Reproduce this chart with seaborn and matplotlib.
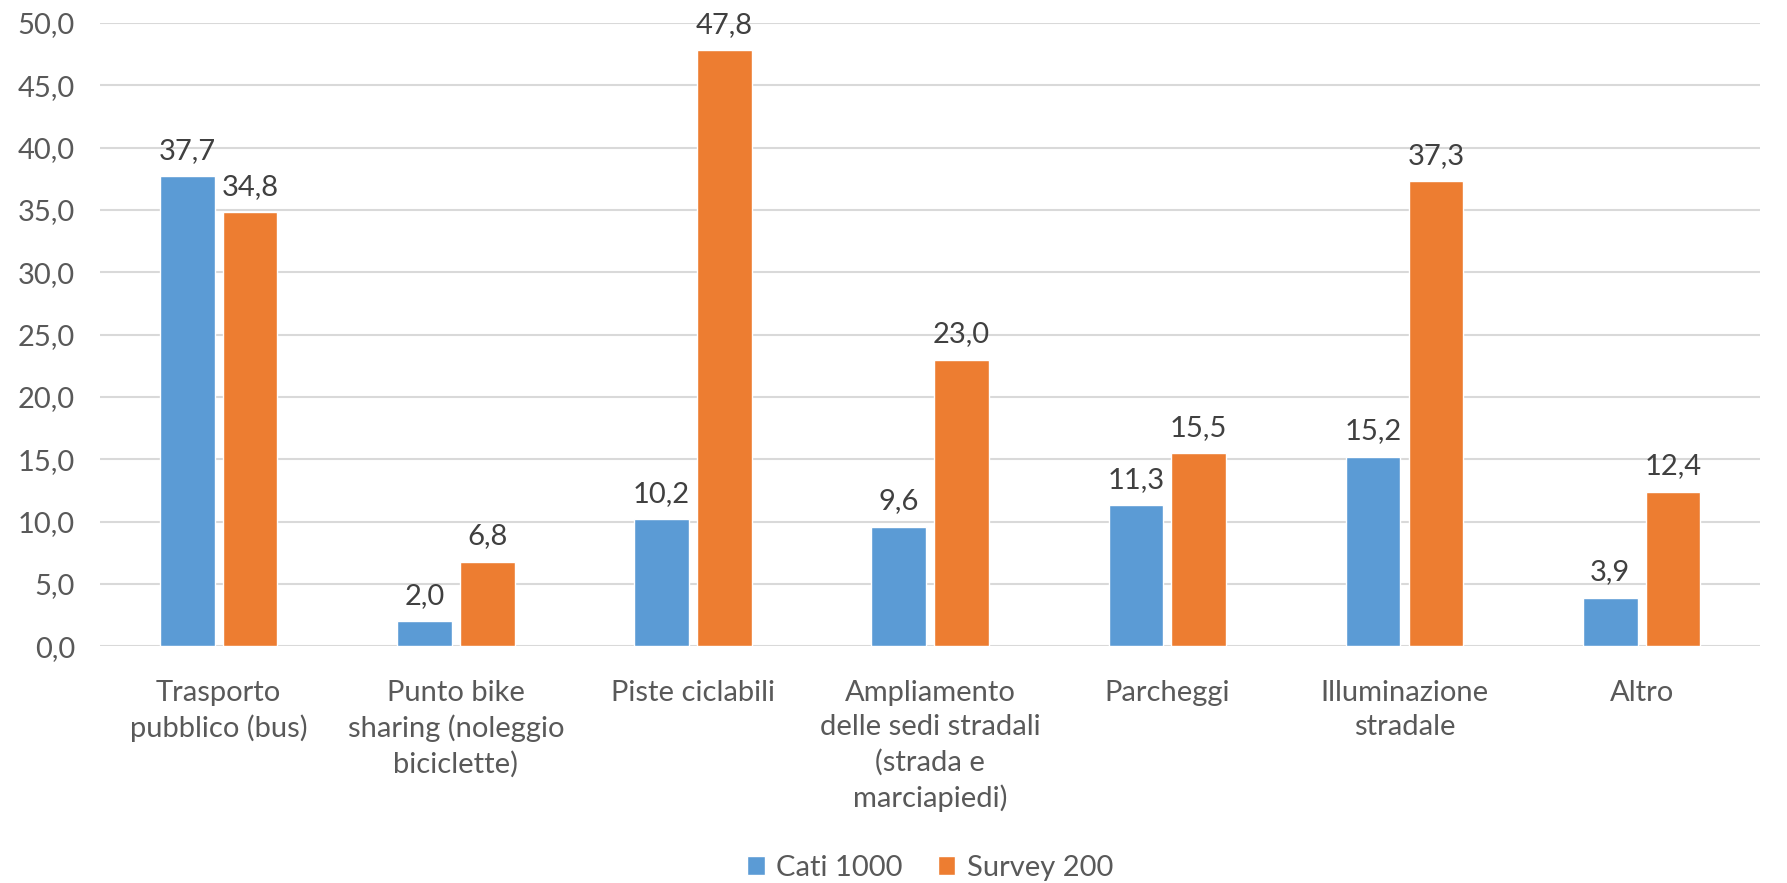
import pandas as pd
import seaborn as sns
import matplotlib.pyplot as plt

# Data
categories = [
    'Trasporto\npubblico (bus)',
    'Punto bike\nsharing (noleggio\nbiciclette)',
    'Piste ciclabili',
    'Ampliamento\ndelle sedi stradali\n(strada e\nmarciapiedi)',
    'Parcheggi',
    'Illuminazione\nstradale',
    'Altro',
]
cati_1000 = [37.7, 2.0, 10.2, 9.6, 11.3, 15.2, 3.9]
survey_200 = [34.8, 6.8, 47.8, 23.0, 15.5, 37.3, 12.4]
series_names = ['Cati 1000', 'Survey 200']
y_ticks = [0, 5, 10, 15, 20, 25, 30, 35, 40, 45, 50]

df = pd.DataFrame({'Categoria': categories, 'Cati 1000': cati_1000, 'Survey 200': survey_200})
df = df.melt(id_vars='Categoria', var_name='Serie', value_name='Valore')

sns.set_style('white')
plt.rcParams['font.family'] = ['Lato', 'DejaVu Sans']
txt = '#595959'
fs = 21

fig, ax = plt.subplots(figsize=(17.87, 8.83), dpi=100)
fig.subplots_adjust(left=0.056, right=0.985, top=0.974, bottom=0.268)

sns.barplot(data=df, x='Categoria', y='Valore', hue='Serie', hue_order=series_names,
            palette=['#5B9BD5', '#ED7D31'], width=0.53, gap=0.13, ax=ax,
            saturation=1, errorbar=None, zorder=3)

for cont in ax.containers:
    ax.bar_label(cont, labels=[f'{v:.1f}'.replace('.', ',') for v in cont.datavalues],
                 padding=9, fontsize=fs, color='#404040')

ax.set_ylim(0, 50)
ax.set_yticks(y_ticks)
ax.set_yticklabels([f'{v:.1f}'.replace('.', ',') for v in y_ticks], fontsize=fs, color=txt)
ax.set_xticks(range(len(categories)))
ax.set_xticklabels(categories, fontsize=fs, color=txt, linespacing=1.4)
ax.tick_params(axis='x', length=0, pad=24)
ax.tick_params(axis='y', length=0, pad=18)
ax.set_xlim(-0.5, len(categories) - 0.5)
ax.grid(axis='y', color='#D9D9D9', linewidth=1.5, zorder=0)
ax.set_xlabel('')
ax.set_ylabel('')
for s in ['top', 'right', 'left', 'bottom']:
    ax.spines[s].set_visible(False)

ax.legend(loc='center', bbox_to_anchor=(0.5, -0.355), ncol=2, frameon=False,
          fontsize=fs, labelcolor=txt, handlelength=0.6, handleheight=0.6,
          handletextpad=0.4, columnspacing=1.2)

fig.savefig('out.png', dpi=100)
